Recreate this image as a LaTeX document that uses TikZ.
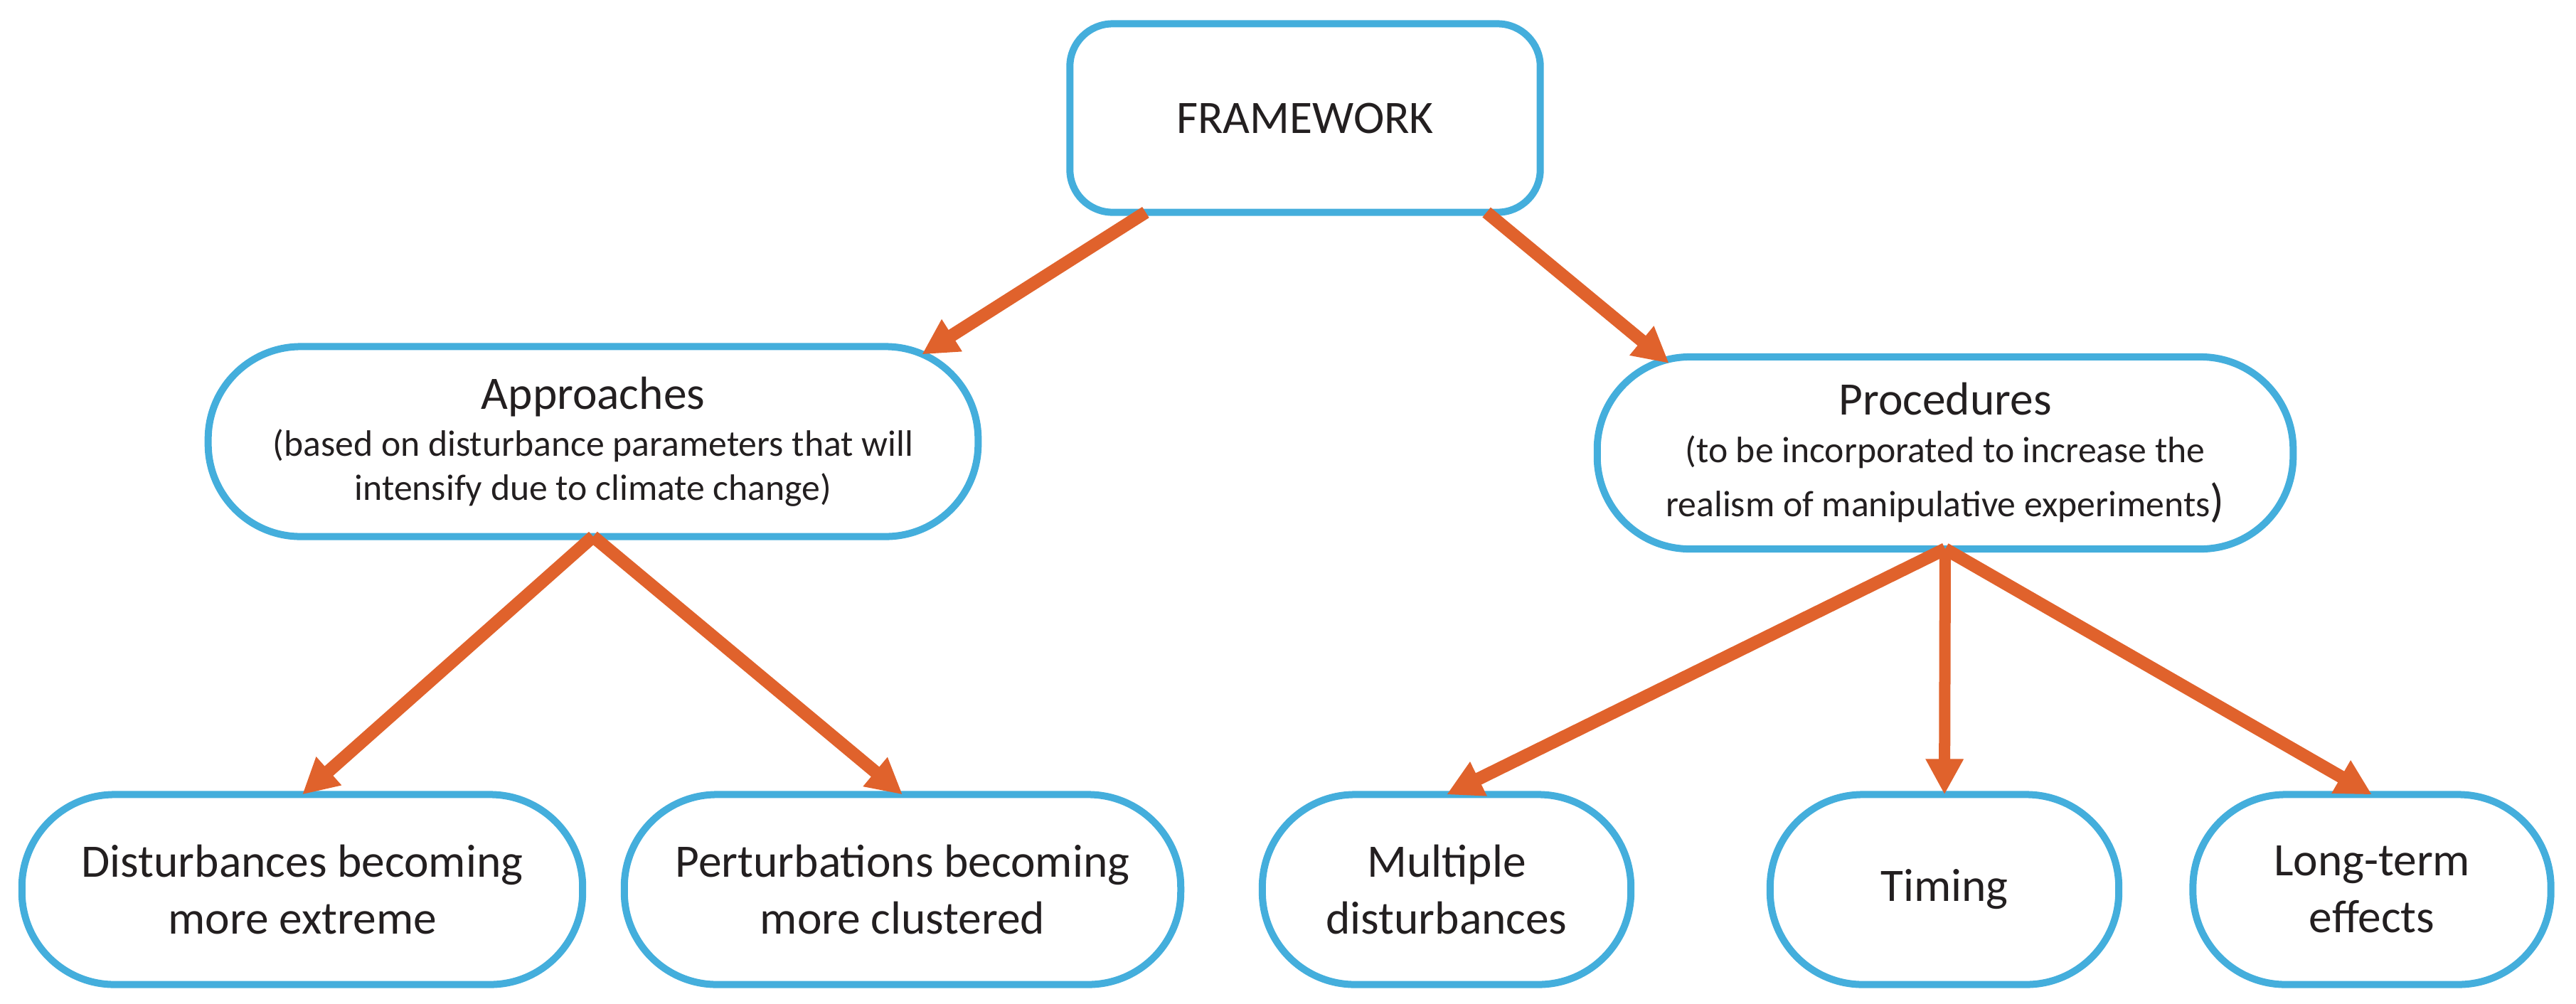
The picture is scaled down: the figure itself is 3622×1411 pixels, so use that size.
\documentclass[tikz,border=0pt]{standalone}
\usepackage{fontspec}
\setmainfont{Carlito}
\usetikzlibrary{arrows.meta}

\definecolor{boxblue}{RGB}{68,174,220}
\definecolor{arrorange}{RGB}{224,98,44}
\definecolor{txtgray}{RGB}{35,31,32}

\newcommand{\bigtxt}{\fontsize{18.6}{22.8}\selectfont}
\newcommand{\smalltxt}{\fontsize{14.7}{17.6}\selectfont}

\tikzset{
  box/.style={draw=boxblue, line width=0.1cm, rounded corners=1.3cm, align=center,
    text=txtgray, minimum height=2.67cm, inner sep=0pt, outer sep=0pt, font=\bigtxt},
  headbox/.style={box, font={\fontsize{18.6}{17.6}\selectfont}},
  arr/.style={draw=arrorange, line width=0.18cm, -{Triangle[length=0.5cm,width=0.5cm]}},
}

\begin{document}
\begin{tikzpicture}[x=0.01cm,y=-0.01cm]
            \useasboundingbox (0,0) rectangle (3622,1411);

            % Root node
            \node[box, rounded corners=0.6cm, minimum width=6.61cm, minimum height=2.65cm] (frame) at (1835,166) {FRAMEWORK};

            % Second stage nodes
            \node[headbox, minimum width=10.82cm] (appr) at (834,621) {Approaches\\[1.2pt]\smalltxt (based on disturbance parameters that will\\\smalltxt intensify due to climate change)};
            \draw[arr] ([xshift=-2.24cm]frame.south) -- ([xshift=4.62cm,yshift=-0.11cm]appr.north);

            \node[headbox, minimum width=9.78cm, minimum height=2.70cm] (proc) at (2735,637) {Procedures\\[1.4pt]\smalltxt (to be incorporated to increase the\\[4pt]\smalltxt realism of manipulative experiments{\bigtxt)}};
            \draw[arr] ([xshift=2.55cm]frame.south) -- ([xshift=-3.88cm,yshift=-0.09cm]proc.north);

            % Third stage nodes
            \node[box, minimum width=7.88cm] (dist) at (425,1251) {Disturbances becoming\\more extreme};
            \draw[arr] (appr.south) -- (dist.north);

            \node[box, minimum width=7.82cm] (pert) at (1269,1251) {Perturbations becoming\\more clustered};
            \draw[arr] (appr.south) -- (pert.north);

            \node[box, minimum width=5.18cm] (multi) at (2034,1251) {Multiple\\disturbances};
            \draw[arr] (proc.south) -- (multi.north);

            \node[box, minimum width=4.90cm] (timing) at (2734,1251) {Timing};
            \draw[arr, line width=0.16cm] (proc.south) -- (timing.north);

            \node[box, minimum width=5.03cm] (longterm) at (3335,1251) {Long-term\\effects};
            \draw[arr] (proc.south) -- (longterm.north);
        \end{tikzpicture}
\end{document}
